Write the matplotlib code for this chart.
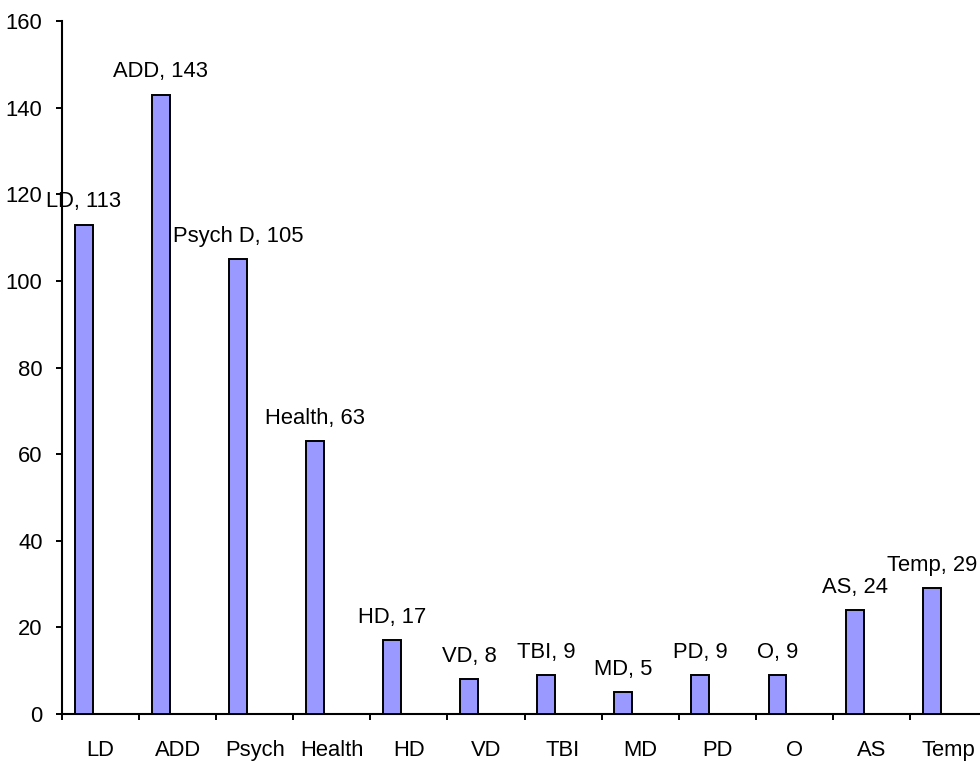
import numpy as np
import matplotlib.pyplot as plt

# data
categories = ["LD", "ADD", "Psych", "Health", "HD", "VD", "TBI", "MD", "PD", "O", "AS", "Temp"]
label_names = ["LD", "ADD", "Psych D", "Health", "HD", "VD", "TBI", "MD", "PD", "O", "AS", "Temp"]
counts = [113, 143, 105, 63, 17, 8, 9, 5, 9, 9, 24, 29]

plt.rcParams['font.family'] = ['Liberation Sans', 'DejaVu Sans']
fs = 15.8

fig = plt.figure(figsize=(9.8, 7.61), dpi=100)
# axis runs slightly past the right edge of the picture, as in the original
ax = fig.add_axes([62/980, 47/761, 925/980, 693/761])

x = np.arange(len(categories))
bar_w = 0.233
shift = -0.218
ax.bar(x + shift, counts, width=bar_w, color='#9999FF', edgecolor='black', linewidth=1.4, zorder=3)

# data labels "name, value" above each bar
for xi, name, v in zip(x, label_names, counts):
    ax.annotate(f"{name}, {v}", (xi + shift, v), xytext=(0, 12.5), textcoords='offset points',
                ha='center', va='baseline', fontsize=fs, annotation_clip=False)

ax.set_xlim(-0.5, len(categories) - 0.5)
ax.set_ylim(0, 160)
ax.set_yticks(np.arange(0, 161, 20))

# ticks between categories, labels at category centres
ax.set_xticks(np.arange(-0.5, len(categories), 1.0))
ax.set_xticklabels([])
ax.set_xticks(x, minor=True)
ax.set_xticklabels(categories, minor=True)
ax.tick_params(axis='x', which='major', direction='out', length=4.5, width=1.4)
ax.tick_params(axis='x', which='minor', length=0, pad=18.5, labelsize=fs)
ax.tick_params(axis='y', direction='out', length=4, width=1.4, pad=10, labelsize=fs)

for s in ['top', 'right']:
    ax.spines[s].set_visible(False)
for s in ['left', 'bottom']:
    ax.spines[s].set_linewidth(1.5)

plt.savefig("out.png", dpi=100)
